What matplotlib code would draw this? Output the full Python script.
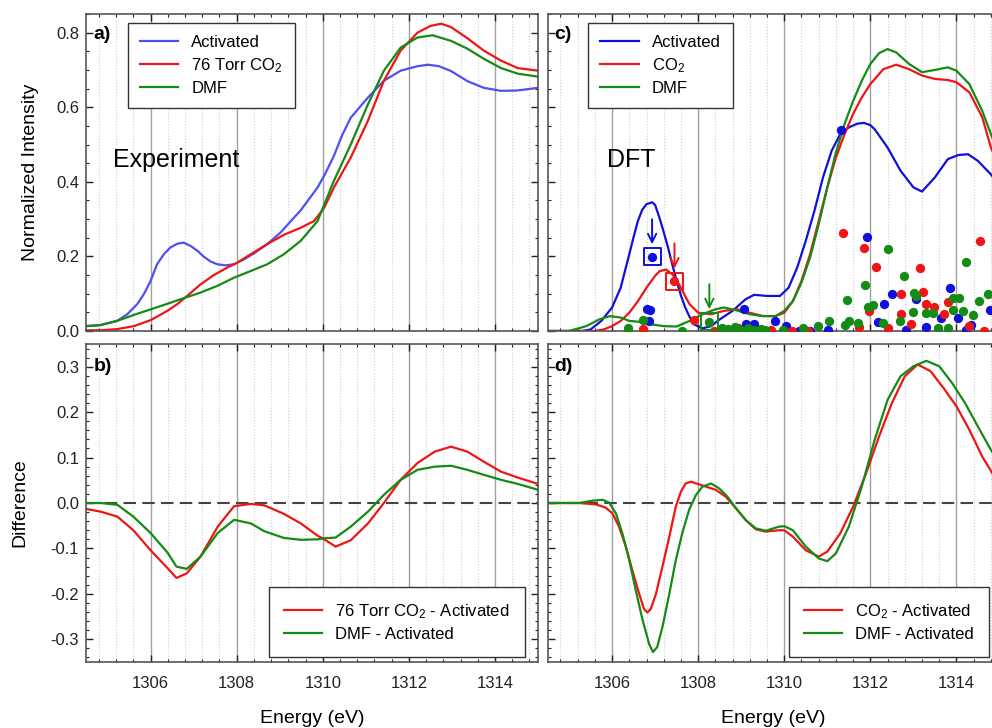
import numpy as np
import matplotlib.pyplot as plt
from matplotlib.ticker import MultipleLocator, AutoMinorLocator

plt.rcParams['font.family'] = ['Liberation Sans', 'DejaVu Sans']
plt.rcParams['mathtext.fontset'] = 'custom'
plt.rcParams['mathtext.rm'] = 'Liberation Sans'
plt.rcParams['mathtext.it'] = 'Liberation Sans:italic'
plt.rcParams['mathtext.bf'] = 'Liberation Sans:bold'

# ---- panel a: experiment ----
exp_act_x = [1304.5, 1304.84, 1305.22, 1305.46, 1305.69, 1305.84, 1306.0, 1306.15, 1306.31, 1306.46,
             1306.62, 1306.77, 1306.93, 1307.09, 1307.24, 1307.4, 1307.55, 1307.74, 1307.94, 1308.17,
             1308.4, 1308.71, 1309.02, 1309.26, 1309.49, 1309.88, 1310.05, 1310.26, 1310.45, 1310.65,
             1311.05, 1311.42, 1311.81, 1312.2, 1312.45, 1312.7, 1312.98, 1313.36, 1313.74, 1314.14,
             1314.53, 1315.0]
exp_act = [0.013, 0.016, 0.027, 0.045, 0.072, 0.098, 0.134, 0.179, 0.206, 0.224,
           0.234, 0.237, 0.228, 0.215, 0.199, 0.186, 0.179, 0.176, 0.179, 0.192,
           0.208, 0.233, 0.264, 0.295, 0.324, 0.385, 0.42, 0.47, 0.525, 0.572,
           0.626, 0.671, 0.698, 0.71, 0.714, 0.71, 0.697, 0.67, 0.652, 0.644,
           0.645, 0.652]
exp_co2_x = [1304.5, 1304.84, 1305.22, 1305.61, 1306.0, 1306.39, 1306.62, 1306.85, 1307.16, 1307.47,
             1307.78, 1308.01, 1308.33, 1308.71, 1309.1, 1309.49, 1309.8, 1310.03, 1310.26, 1310.65,
             1311.05, 1311.42, 1311.81, 1312.2, 1312.5, 1312.75, 1312.98, 1313.36, 1313.74, 1314.14,
             1314.53, 1315.0]
exp_co2 = [0.002, 0.002, 0.005, 0.013, 0.029, 0.054, 0.072, 0.094, 0.125, 0.15,
           0.17, 0.183, 0.206, 0.233, 0.258, 0.277, 0.295, 0.33, 0.385, 0.465,
           0.564, 0.671, 0.752, 0.80, 0.818, 0.824, 0.815, 0.785, 0.752, 0.725,
           0.705, 0.698]
exp_dmf_x = [1304.5, 1304.84, 1305.22, 1305.61, 1306.0, 1306.39, 1306.77, 1307.16, 1307.55, 1307.94,
             1308.33, 1308.71, 1309.1, 1309.49, 1309.72, 1309.88, 1310.26, 1310.65, 1311.05, 1311.42,
             1311.81, 1312.2, 1312.55, 1312.98, 1313.36, 1313.74, 1314.14, 1314.53, 1315.0]
exp_dmf = [0.013, 0.016, 0.027, 0.043, 0.058, 0.073, 0.088, 0.103, 0.121, 0.143,
           0.161, 0.179, 0.206, 0.242, 0.273, 0.295, 0.403, 0.5, 0.608, 0.698,
           0.76, 0.787, 0.793, 0.778, 0.757, 0.73, 0.705, 0.69, 0.682]

# ---- panel b: experimental differences ----
dexp_x = [1304.5, 1304.84, 1305.23, 1305.6, 1306.0, 1306.4, 1306.6, 1306.84, 1307.16, 1307.56,
          1307.94, 1308.33, 1308.64, 1309.1, 1309.49, 1309.88, 1310.0, 1310.3, 1310.65, 1311.05,
          1311.42, 1311.81, 1312.2, 1312.6, 1312.98, 1313.36, 1313.74, 1314.14, 1314.53, 1315.0]
dexp_co2 = [-0.013, -0.019, -0.03, -0.06, -0.104, -0.144, -0.165, -0.155, -0.118, -0.052,
            -0.007, -0.002, -0.005, -0.024, -0.045, -0.072, -0.078, -0.096, -0.082, -0.045,
            0.0, 0.051, 0.088, 0.113, 0.124, 0.113, 0.091, 0.069, 0.056, 0.042]
dexp_dmf = [0.0, 0.0, -0.004, -0.03, -0.066, -0.11, -0.14, -0.145, -0.118, -0.066,
            -0.037, -0.045, -0.062, -0.077, -0.081, -0.08, -0.078, -0.076, -0.052, -0.019,
            0.018, 0.051, 0.073, 0.08, 0.082, 0.073, 0.062, 0.051, 0.042, 0.029]

# ---- panel c: DFT spectra ----
dft_act_x = [1304.5, 1305.3, 1305.5, 1305.75, 1306.0, 1306.2, 1306.4, 1306.5, 1306.6, 1306.7,
             1306.8, 1306.93, 1307.0, 1307.1, 1307.2, 1307.3, 1307.4, 1307.5, 1307.6, 1307.7,
             1307.8, 1307.9, 1308.1, 1308.3, 1308.5, 1308.8, 1309.1, 1309.3, 1309.6, 1309.9,
             1310.1, 1310.3, 1310.5, 1310.7, 1310.9, 1311.1, 1311.3, 1311.5, 1311.7, 1311.85,
             1312.0, 1312.1, 1312.4, 1312.7, 1313.0, 1313.2, 1313.5, 1313.8, 1314.05, 1314.27,
             1314.5, 1314.8, 1315.0]
dft_act = [0, 0, 0.004, 0.027, 0.063, 0.116, 0.206, 0.252, 0.295, 0.325,
           0.34, 0.345, 0.338, 0.304, 0.265, 0.224, 0.178, 0.134, 0.095, 0.063,
           0.038, 0.018, 0.007, 0.013, 0.031, 0.054, 0.085, 0.097, 0.094, 0.094,
           0.116, 0.17, 0.242, 0.322, 0.412, 0.483, 0.528, 0.546, 0.556, 0.558,
           0.552, 0.541, 0.492, 0.43, 0.385, 0.374, 0.412, 0.461, 0.472, 0.474,
           0.456, 0.42, 0.39]
dft_co2_x = [1304.5, 1305.6, 1305.8, 1306.0, 1306.2, 1306.4, 1306.6, 1306.8, 1307.0, 1307.1,
             1307.25, 1307.4, 1307.5, 1307.6, 1307.7, 1307.8, 1308.0, 1308.3, 1308.6, 1308.9,
             1309.2, 1309.5, 1309.8, 1310.0, 1310.2, 1310.4, 1310.6, 1310.8, 1311.0, 1311.2,
             1311.4, 1311.6, 1311.8, 1312.0, 1312.3, 1312.6, 1312.9, 1313.2, 1313.5, 1313.8,
             1314.0, 1314.3, 1314.6, 1314.8, 1315.0]
dft_co2 = [0, 0, 0.004, 0.013, 0.027, 0.049, 0.08, 0.116, 0.148, 0.16,
           0.165, 0.152, 0.136, 0.116, 0.093, 0.072, 0.049, 0.045, 0.054, 0.058,
           0.049, 0.04, 0.04, 0.049, 0.08, 0.134, 0.206, 0.295, 0.385, 0.465,
           0.528, 0.582, 0.626, 0.662, 0.702, 0.714, 0.702, 0.685, 0.676, 0.673,
           0.667, 0.64, 0.573, 0.492, 0.44]
dft_dmf_x = [1304.5, 1305.0, 1305.4, 1305.7, 1305.95, 1306.2, 1306.4, 1306.6, 1306.9, 1307.2,
             1307.5, 1307.8, 1308.1, 1308.4, 1308.6, 1308.9, 1309.2, 1309.5, 1309.8, 1310.0,
             1310.2, 1310.4, 1310.6, 1310.8, 1311.0, 1311.2, 1311.4, 1311.6, 1311.8, 1312.0,
             1312.2, 1312.4, 1312.6, 1312.9, 1313.2, 1313.5, 1313.8, 1314.0, 1314.3, 1314.6,
             1314.8, 1315.0]
dft_dmf = [0, 0, 0.013, 0.031, 0.04, 0.036, 0.027, 0.025, 0.018, 0.013,
           0.012, 0.027, 0.045, 0.058, 0.063, 0.055, 0.045, 0.04, 0.04, 0.054,
           0.08, 0.13, 0.197, 0.286, 0.385, 0.479, 0.555, 0.617, 0.671, 0.716,
           0.745, 0.756, 0.747, 0.716, 0.694, 0.7, 0.707, 0.698, 0.662, 0.59,
           0.528, 0.47]

# individual transitions (stick points)
pts_act_x = [1306.80, 1306.88, 1306.85, 1309.07, 1309.12, 1309.3, 1309.79, 1310.05, 1310.35,
             1310.59, 1311.01, 1311.32, 1311.915, 1313.84, 1312.50, 1312.31, 1312.17, 1312.83,
             1313.06, 1313.3, 1313.64, 1314.03, 1314.22, 1314.34, 1314.77]
pts_act_y = [0.06, 0.055, 0.027, 0.058, 0.02, 0.02, 0.028, 0.013, 0.0,
             0.0, 0.004, 0.539, 0.253, 0.116, 0.100, 0.072, 0.025, 0.004,
             0.085, 0.01, 0.035, 0.035, 0.004, 0.017, 0.057]
pts_co2_x = [1306.71, 1307.9, 1308.37, 1308.92, 1309.43, 1309.69, 1310.19, 1310.54, 1311.36,
             1311.85, 1312.12, 1313.16, 1314.54, 1312.71, 1313.22, 1311.98, 1312.71, 1313.3,
             1313.49, 1313.72, 1313.8, 1312.95, 1312.4, 1311.74, 1314.3, 1314.65]
pts_co2_y = [0.005, 0.03, 0.0, 0.009, 0.004, 0.004, 0.0, 0.0, 0.262,
             0.222, 0.172, 0.169, 0.24, 0.1, 0.105, 0.053, 0.046, 0.073,
             0.064, 0.046, 0.078, 0.02, 0.009, 0.01, 0.013, 0.0]
pts_dmf_x = [1306.36, 1306.71, 1307.63, 1308.55, 1308.7, 1308.85, 1309.0, 1309.15, 1309.3,
             1309.45, 1309.55, 1309.96, 1310.43, 1310.78, 1311.05, 1311.4, 1311.51, 1311.71,
             1312.29, 1312.68, 1313.57, 1313.8, 1312.42, 1314.22, 1312.78, 1311.88, 1311.45,
             1311.94, 1312.05, 1313.02, 1313.06, 1312.98, 1313.3, 1313.45, 1313.92, 1314.07,
             1313.92, 1314.15, 1314.53, 1314.73, 1314.38]
pts_dmf_y = [0.008, 0.03, 0.0, 0.008, 0.005, 0.01, 0.004, 0.008, 0.003,
             0.006, 0.002, 0.004, 0.007, 0.013, 0.028, 0.017, 0.026, 0.022,
             0.022, 0.028, 0.009, 0.007, 0.219, 0.186, 0.148, 0.124, 0.084,
             0.064, 0.069, 0.103, 0.094, 0.051, 0.049, 0.049, 0.089, 0.089,
             0.057, 0.053, 0.08, 0.098, 0.044]

# highlighted (boxed) transitions
hl_x = [1306.93, 1307.45, 1308.26]
hl_y = [0.199, 0.134, 0.025]

# ---- panel d: DFT differences ----
ddft_co2_x = [1304.5, 1305.23, 1305.62, 1305.85, 1306.01, 1306.16, 1306.32, 1306.47, 1306.63, 1306.74,
              1306.82, 1306.9, 1307.02, 1307.17, 1307.33, 1307.48, 1307.6, 1307.71, 1307.83, 1307.99,
              1308.18, 1308.41, 1308.64, 1308.88, 1309.11, 1309.34, 1309.57, 1309.88, 1310.0, 1310.2,
              1310.5, 1310.8, 1311.0, 1311.3, 1311.6, 1311.9, 1312.2, 1312.5, 1312.8, 1313.1,
              1313.4, 1313.7, 1314.0, 1314.3, 1314.6, 1315.0]
ddft_co2 = [0, 0, -0.003, -0.01, -0.023, -0.052, -0.096, -0.148, -0.2, -0.233,
            -0.241, -0.233, -0.2, -0.14, -0.074, -0.008, 0.025, 0.043, 0.047, 0.042,
            0.036, 0.029, 0.014, -0.012, -0.038, -0.058, -0.063, -0.06, -0.06, -0.074,
            -0.104, -0.118, -0.107, -0.067, -0.008, 0.065, 0.146, 0.22, 0.279, 0.305,
            0.29, 0.253, 0.213, 0.161, 0.102, 0.04]
ddft_dmf_x = [1304.5, 1305.23, 1305.54, 1305.78, 1305.93, 1306.09, 1306.24, 1306.4, 1306.55, 1306.71,
              1306.86, 1306.95, 1307.05, 1307.17, 1307.33, 1307.48, 1307.64, 1307.79, 1307.95, 1308.1,
              1308.3, 1308.49, 1308.68, 1308.88, 1309.11, 1309.34, 1309.57, 1309.88, 1310.0, 1310.2,
              1310.5, 1310.8, 1311.0, 1311.2, 1311.5, 1311.8, 1312.1, 1312.4, 1312.7, 1313.0,
              1313.3, 1313.6, 1313.9, 1314.2, 1314.5, 1314.8, 1315.0]
ddft_dmf = [0, 0, 0.005, 0.007, 0.001, -0.023, -0.067, -0.126, -0.192, -0.258,
            -0.31, -0.328, -0.317, -0.273, -0.2, -0.126, -0.063, -0.015, 0.018, 0.036,
            0.043, 0.032, 0.014, -0.012, -0.038, -0.056, -0.061, -0.052, -0.051, -0.06,
            -0.096, -0.122, -0.128, -0.111, -0.052, 0.036, 0.139, 0.227, 0.279, 0.301,
            0.313, 0.301, 0.264, 0.22, 0.168, 0.117, 0.09]

BLUE_A = '#4f4ff5'
BLUE = '#1010dd'
RED = '#ee1515'
GREEN = '#158a15'

fig = plt.figure(figsize=(9.92, 7.28), dpi=100)
W, H = 992, 728
def box(x0, y_top, w, h):
    return [x0 / W, (H - y_top - h) / H, w / W, h / H]

ax_a = fig.add_axes(box(86, 14, 452, 317))
ax_c = fig.add_axes(box(547.5, 14, 452, 317))
ax_b = fig.add_axes(box(86, 344, 452, 318))
ax_d = fig.add_axes(box(547.5, 344, 452, 318))

for ax in (ax_a, ax_b, ax_c, ax_d):
    ax.set_xlim(1304.5, 1315)
    ax.xaxis.set_major_locator(MultipleLocator(2))
    ax.xaxis.set_minor_locator(MultipleLocator(0.4))
    ax.yaxis.set_minor_locator(AutoMinorLocator())
    ax.grid(True, which='major', axis='x', color='#a0a0a0', lw=1.0)
    ax.grid(True, which='minor', axis='x', color='#cfcfcf', lw=0.8, ls=':')
    ax.set_axisbelow(True)
    ax.tick_params(which='both', direction='in', top=True, right=True, labelsize=12,
                   colors='#222222')
    ax.tick_params(which='major', length=5, width=1)
    ax.tick_params(which='minor', length=2.5, width=0.8)
    ax.tick_params(axis='x', which='major', pad=10)
    ax.tick_params(axis='y', which='major', pad=5)
    for s in ax.spines.values():
        s.set_color('#555555')
        s.set_linewidth(1.2)

for ax in (ax_a, ax_c):
    ax.set_ylim(0, 0.85)
    ax.yaxis.set_major_locator(MultipleLocator(0.2))
    ax.tick_params(labelbottom=False)
for ax in (ax_b, ax_d):
    ax.set_ylim(-0.35, 0.35)
    ax.yaxis.set_major_locator(MultipleLocator(0.1))
    ax.axhline(0, color='#444444', lw=1.5, ls=(0, (6, 3)), zorder=1)
    ax.set_xlabel('Energy (eV)', fontsize=14, labelpad=14)
ax_c.tick_params(labelleft=False)
ax_d.tick_params(labelleft=False)
ax_a.yaxis.set_major_formatter(plt.FormatStrFormatter('%.1f'))
ax_b.yaxis.set_major_formatter(plt.FormatStrFormatter('%.1f'))

leg_kw = dict(fontsize=12, frameon=True, fancybox=False, edgecolor='#333333',
              framealpha=1, handlelength=2.3, labelspacing=0.38, borderaxespad=0)

# a
ax_a.plot(exp_act_x, exp_act, color=BLUE_A, lw=1.6, label='Activated')
ax_a.plot(exp_co2_x, exp_co2, color=RED, lw=1.6, label='76 Torr CO$_2$')
ax_a.plot(exp_dmf_x, exp_dmf, color=GREEN, lw=1.6, label='DMF')
leg = ax_a.legend(loc='upper left', bbox_to_anchor=(0.092, 0.973), borderpad=0.72, **leg_kw)
leg.get_frame().set_linewidth(1.0)
ax_a.set_ylabel('Normalized Intensity', fontsize=14)
ax_a.yaxis.set_label_coords(-0.104, 0.5)
ax_a.text(0.06, 0.54, 'Experiment', transform=ax_a.transAxes, fontsize=18, va='center')
ax_a.text(0.016, 0.935, 'a)', transform=ax_a.transAxes, fontsize=14, weight='bold', va='center')

# b
ax_b.plot(dexp_x, dexp_co2, color=RED, lw=1.6, label='76 Torr CO$_2$ - Activated')
ax_b.plot(dexp_x, dexp_dmf, color=GREEN, lw=1.6, label='DMF - Activated')
leg = ax_b.legend(loc='lower right', bbox_to_anchor=(0.971, 0.016), borderpad=0.9, **leg_kw)
leg.get_frame().set_linewidth(1.0)
ax_b.set_ylabel('Difference', fontsize=14)
ax_b.yaxis.set_label_coords(-0.127, 0.5)
ax_b.text(0.016, 0.928, 'b)', transform=ax_b.transAxes, fontsize=14, weight='bold', va='center')

# c
ax_c.plot(dft_act_x, dft_act, color=BLUE, lw=1.6, label='Activated', zorder=2)
ax_c.plot(dft_co2_x, dft_co2, color=RED, lw=1.6, label='CO$_2$', zorder=2)
ax_c.plot(dft_dmf_x, dft_dmf, color=GREEN, lw=1.6, label='DMF', zorder=2)
ax_c.scatter(pts_act_x, pts_act_y, s=45, color=BLUE, lw=0, zorder=3)
ax_c.scatter(pts_co2_x, pts_co2_y, s=45, color=RED, lw=0, zorder=3)
ax_c.scatter(pts_dmf_x, pts_dmf_y, s=45, color=GREEN, lw=0, zorder=3)
for hx, hy, col in zip(hl_x, hl_y, [BLUE, RED, GREEN]):
    ax_c.scatter([hx], [hy], s=45, color=col, lw=0, zorder=4)
    ax_c.scatter([hx], [hy], s=150, marker='s', facecolor='none', edgecolor=col,
                 lw=1.4, zorder=4)
    ax_c.annotate('', xy=(hx, hy), xytext=(0, 27), textcoords='offset points',
                  arrowprops=dict(arrowstyle='->', color=col, lw=1.4,
                                  shrinkA=0, shrinkB=9, mutation_scale=15))
leg = ax_c.legend(loc='upper left', bbox_to_anchor=(0.09, 0.973), borderpad=0.72, **leg_kw)
leg.get_frame().set_linewidth(1.0)
ax_c.text(0.132, 0.54, 'DFT', transform=ax_c.transAxes, fontsize=18, va='center')
ax_c.text(0.016, 0.935, 'c)', transform=ax_c.transAxes, fontsize=14, weight='bold', va='center')

# d
ax_d.plot(ddft_co2_x, ddft_co2, color=RED, lw=1.6, label='CO$_2$ - Activated')
ax_d.plot(ddft_dmf_x, ddft_dmf, color=GREEN, lw=1.6, label='DMF - Activated')
leg = ax_d.legend(loc='lower right', bbox_to_anchor=(0.977, 0.016), borderpad=0.9, **leg_kw)
leg.get_frame().set_linewidth(1.0)
ax_d.text(0.016, 0.928, 'd)', transform=ax_d.transAxes, fontsize=14, weight='bold', va='center')

fig.savefig('out.png', dpi=100)
